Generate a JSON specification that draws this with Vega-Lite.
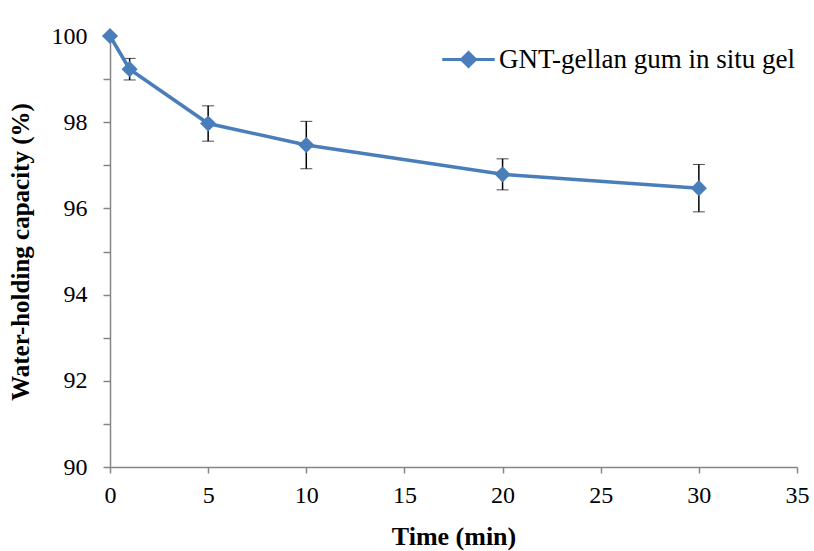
{
  "$schema": "https://vega.github.io/schema/vega-lite/v6.json",
  "width": 687,
  "height": 431,
  "autosize": {"type": "none"},
  "padding": {"left": 110, "top": 36, "right": 17, "bottom": 84},
  "background": "white",
  "config": {
    "view": {"stroke": null},
    "font": "Liberation Serif",
    "axis": {"labelFont": "Liberation Serif", "titleFont": "Liberation Serif"}
  },
  "data": {
    "values": [
      {"t": 0, "wc": 100.0, "sd": 0.0, "series": "GNT-gellan gum in situ gel"},
      {"t": 1, "wc": 99.23, "sd": 0.25, "series": "GNT-gellan gum in situ gel"},
      {"t": 5, "wc": 97.97, "sd": 0.41, "series": "GNT-gellan gum in situ gel"},
      {"t": 10, "wc": 97.47, "sd": 0.55, "series": "GNT-gellan gum in situ gel"},
      {"t": 20, "wc": 96.79, "sd": 0.36, "series": "GNT-gellan gum in situ gel"},
      {"t": 30, "wc": 96.47, "sd": 0.55, "series": "GNT-gellan gum in situ gel"}
    ]
  },
  "encoding": {
    "x": {
      "field": "t",
      "type": "quantitative",
      "scale": {"domain": [0, 35], "nice": false, "zero": false},
      "axis": {
        "title": "Time (min)",
        "values": [0, 5, 10, 15, 20, 25, 30, 35],
        "grid": false,
        "domainColor": "#868686",
        "domainWidth": 1.5,
        "tickColor": "#868686",
        "tickWidth": 1.5,
        "tickSize": 6,
        "labelFont": "Liberation Serif",
        "labelFontSize": 24,
        "labelColor": "black",
        "labelPadding": 10,
        "labelFlush": false,
        "titleFont": "Liberation Serif",
        "titleFontSize": 26,
        "titleFontWeight": "bold",
        "titleColor": "black",
        "titlePadding": 16
      }
    },
    "y": {
      "field": "wc",
      "type": "quantitative",
      "scale": {"domain": [90, 100], "nice": false, "zero": false},
      "axis": {
        "title": "Water-holding capacity (%)",
        "values": [90, 91, 92, 93, 94, 95, 96, 97, 98, 99, 100],
        "labelExpr": "datum.value % 2 == 0 ? datum.label : ''",
        "grid": false,
        "domainColor": "#868686",
        "domainWidth": 1.5,
        "tickColor": "#868686",
        "tickWidth": 1.5,
        "tickSize": 7,
        "labelFont": "Liberation Serif",
        "labelFontSize": 24,
        "labelColor": "black",
        "labelPadding": 16,
        "titleFont": "Liberation Serif",
        "titleFontSize": 25,
        "titleFontWeight": "bold",
        "titleColor": "black",
        "titlePadding": 18
      }
    }
  },
  "layer": [
    {
      "mark": {
        "type": "errorbar",
        "ticks": {"size": 12, "color": "black", "strokeWidth": 2},
        "rule": {"color": "black", "strokeWidth": 1.5}
      },
      "encoding": {
        "yError": {"field": "sd"}
      }
    },
    {
      "mark": {
        "type": "line",
        "strokeWidth": 3.5,
        "point": {"shape": "diamond", "size": 260, "filled": true, "opacity": 1}
      },
      "encoding": {
        "color": {
          "field": "series",
          "type": "nominal",
          "scale": {"range": ["#4a7ebb"]},
          "legend": {
            "title": null,
            "orient": "none",
            "legendX": 345,
            "legendY": 10,
            "symbolType": "M-3.75,0H3.75M0,-1L1,0L0,1L-1,0Z",
            "symbolSize": 196,
            "symbolStrokeWidth": 3,
            "symbolFillColor": "#4a7ebb",
            "symbolStrokeColor": "#4a7ebb",
            "symbolOpacity": 1,
            "labelFont": "Liberation Serif",
            "labelFontSize": 27,
            "labelColor": "black",
            "labelOffset": 17,
            "labelLimit": 400
          }
        }
      }
    }
  ]
}
